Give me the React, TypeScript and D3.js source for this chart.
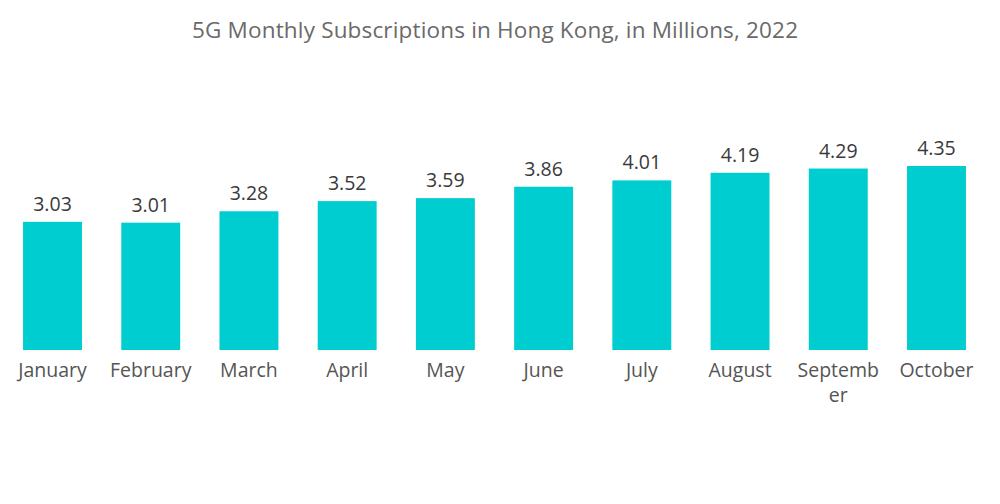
import * as d3 from 'd3'
import { useEffect, useRef } from 'react'

const months = ['January', 'February', 'March', 'April', 'May', 'June', 'July', 'August', 'September', 'October']
const subscriptions = [3.03, 3.01, 3.28, 3.52, 3.59, 3.86, 4.01, 4.19, 4.29, 4.35]
const title = '5G Monthly Subscriptions in Hong Kong, in Millions, 2022'

const WIDTH = 1000
const HEIGHT = 504
const FONT = '"Open Sans", Lato, sans-serif'

/* breaks a word into lines by characters when it gets wider than maxWidth */
const wrapLabel = (text: d3.Selection<SVGTextElement, string, SVGGElement, unknown>, maxWidth: number) => {
    text.each(function (d) {
        const el = d3.select(this)
        const x = el.attr('x')
        el.text(null)
        let line = ''
        let tspan = el.append('tspan').attr('x', x).attr('dy', 0)
        for (const ch of d) {
            tspan.text(line + ch)
            if ((tspan.node() as SVGTSpanElement).getComputedTextLength() > maxWidth && line.length > 0) {
                tspan.text(line)
                line = ch
                tspan = el.append('tspan').attr('x', x).attr('dy', 25).text(ch)
            } else {
                line += ch
            }
        }
    })
}

export default function App() {
    const ref = useRef<SVGSVGElement>(null)

    useEffect(() => {
        document.body.style.margin = '0'
        if (!ref.current) return
        const svg = d3.select(ref.current)
        svg.selectAll('*').remove()

        const baseline = 350

        const xScale = d3.scaleBand<string>()
            .domain(months)
            .range([3.4, 985.6])
            .paddingInner(0.4)
            .paddingOuter(0.2)

        const yScale = d3.scaleLinear()
            .domain([0, 4.35])
            .range([baseline, 166])

        svg.append('text')
            .attr('x', 495)
            .attr('y', 38)
            .attr('text-anchor', 'middle')
            .attr('font-family', FONT)
            .attr('font-size', 22.5)
            .attr('fill', '#6a6a6a')
            .attr('textLength', 606)
            .text(title)

        const data = months.map((m, i) => ({ month: m, value: subscriptions[i] }))

        svg.append('g')
            .selectAll('rect')
            .data(data)
            .join('rect')
            .attr('x', d => xScale(d.month)!)
            .attr('y', d => yScale(d.value))
            .attr('width', xScale.bandwidth())
            .attr('height', d => baseline - yScale(d.value))
            .attr('fill', '#00CDD0')

        svg.append('g')
            .selectAll('text')
            .data(data)
            .join('text')
            .attr('x', d => xScale(d.month)! + xScale.bandwidth() / 2)
            .attr('y', d => yScale(d.value) - 11)
            .attr('text-anchor', 'middle')
            .attr('font-family', FONT)
            .attr('font-size', 19.5)
            .attr('fill', '#3a3a3a')
            .text(d => d.value.toFixed(2))

        const labels = svg.append('g')
            .selectAll<SVGTextElement, string>('text')
            .data(months)
            .join('text')
            .attr('x', d => xScale(d)! + xScale.bandwidth() / 2)
            .attr('y', 377)
            .attr('text-anchor', 'middle')
            .attr('font-family', FONT)
            .attr('font-size', 19.5)
            .attr('fill', '#555')
            .text(d => d)
        wrapLabel(labels as any, 88)
    }, [])

    return <svg ref={ref} width={WIDTH} height={HEIGHT} style={{ display: 'block', background: '#fff' }} />
}
